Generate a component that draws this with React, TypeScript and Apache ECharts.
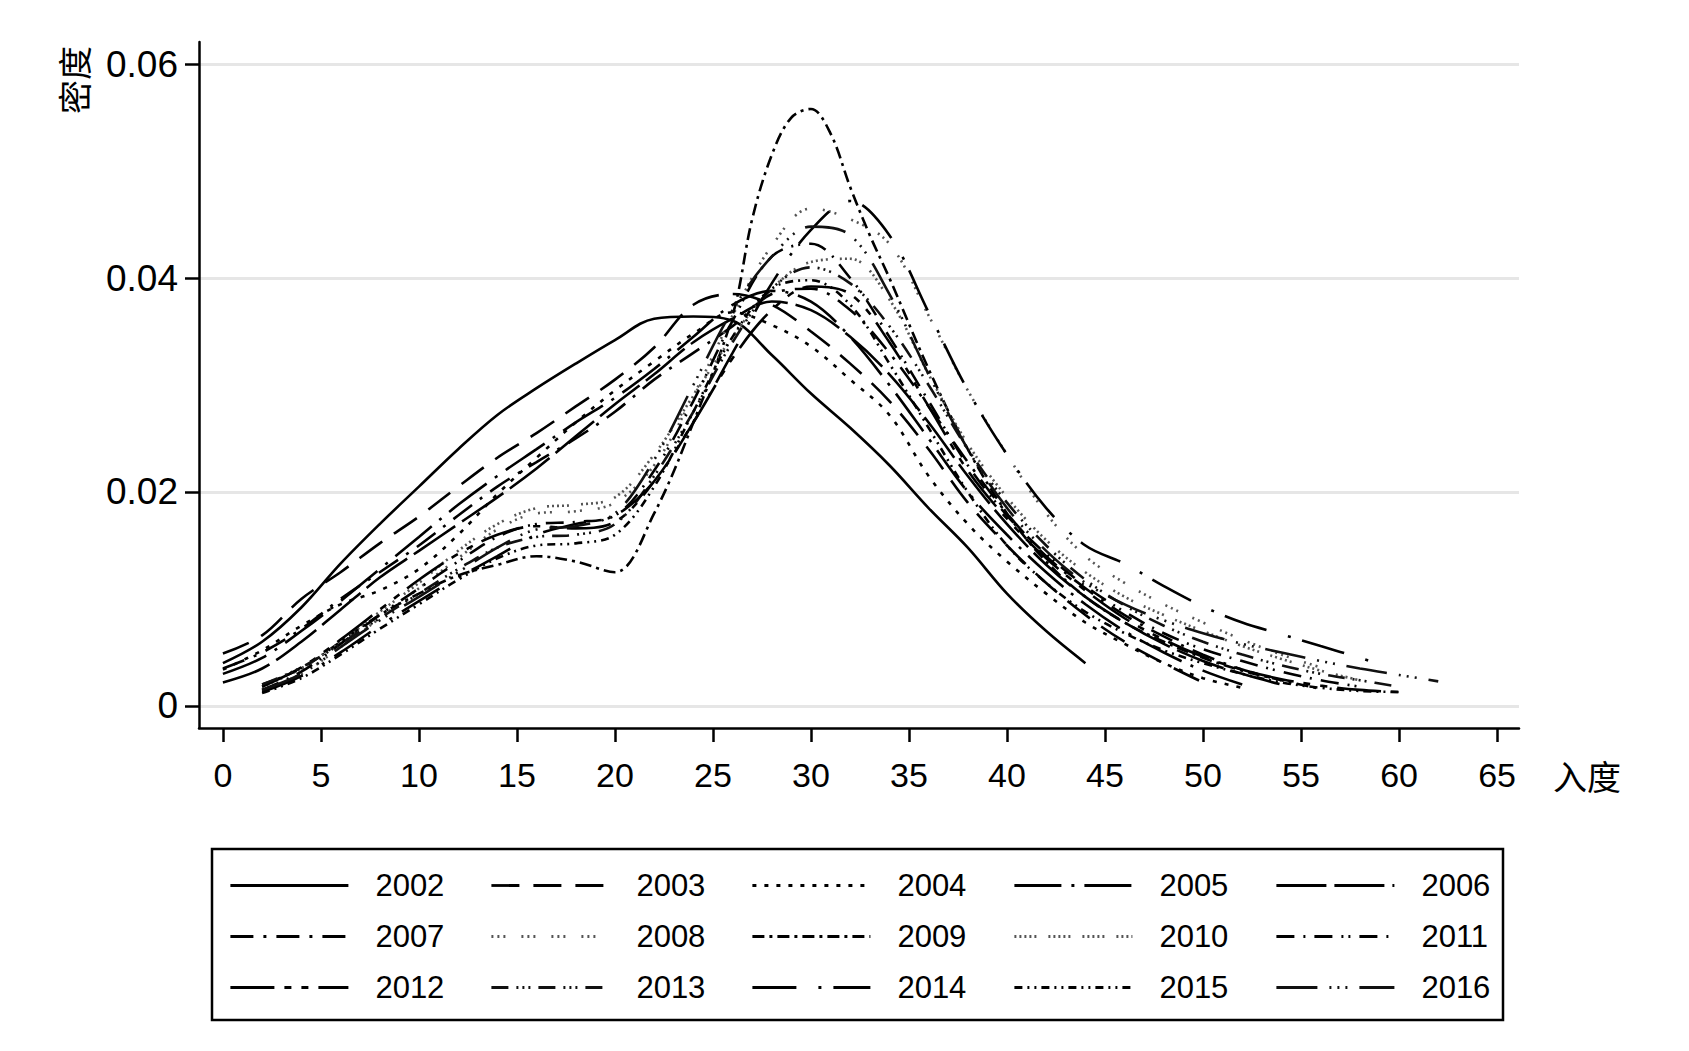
import React, { useEffect, useRef } from 'react';
import * as echarts from 'echarts';

// density curves: [degree, density]
const years = ['2002', '2003', '2004', '2005', '2006', '2007', '2008', '2009', '2010', '2011', '2012', '2013', '2014', '2015', '2016'];

const d2002 = [[0, 0.004], [2, 0.006], [4, 0.0092], [6, 0.0133], [8, 0.017], [10, 0.0205], [12, 0.024], [14, 0.0272], [16, 0.0297], [18, 0.032], [20, 0.0342], [22, 0.0362], [24, 0.0364], [26, 0.036], [28, 0.0328], [30, 0.0292], [32, 0.026], [34, 0.0225], [36, 0.0185], [38, 0.0148], [40, 0.0105], [42, 0.007], [44, 0.004]];
const d2003 = [[0, 0.0049], [2, 0.0066], [4, 0.01], [6, 0.0125], [8, 0.0152], [10, 0.0177], [12, 0.0205], [14, 0.0232], [16, 0.0255], [18, 0.028], [20, 0.0305], [22, 0.0335], [24, 0.0375], [26, 0.0385], [28, 0.0375], [30, 0.035], [32, 0.032], [34, 0.0285], [36, 0.024], [38, 0.019], [40, 0.015], [42, 0.0115], [44, 0.0085], [46, 0.006], [48, 0.004], [50, 0.0022]];
const d2004 = [[0, 0.0034], [2, 0.0052], [4, 0.0075], [6, 0.0095], [8, 0.0108], [10, 0.0128], [12, 0.016], [14, 0.0198], [16, 0.0232], [18, 0.0265], [20, 0.0295], [22, 0.0322], [24, 0.0348], [26, 0.0368], [28, 0.0356], [30, 0.0336], [32, 0.0305], [34, 0.0272], [36, 0.0215], [38, 0.017], [40, 0.0135], [42, 0.0105], [44, 0.0078], [46, 0.0058], [48, 0.004], [50, 0.0026], [52, 0.0017]];
const d2005 = [[0, 0.003], [2, 0.0045], [4, 0.007], [6, 0.0098], [8, 0.0128], [10, 0.0158], [12, 0.0188], [14, 0.0215], [16, 0.024], [18, 0.0265], [20, 0.0288], [22, 0.0315], [24, 0.0345], [26, 0.0375], [28, 0.0388], [30, 0.0378], [32, 0.0345], [34, 0.03], [36, 0.025], [38, 0.02], [40, 0.016], [42, 0.0125], [44, 0.0095], [46, 0.007], [48, 0.005], [50, 0.0033], [52, 0.002]];
const d2006 = [[0, 0.0022], [2, 0.0035], [4, 0.006], [6, 0.009], [8, 0.012], [10, 0.0145], [12, 0.017], [14, 0.0195], [16, 0.0222], [18, 0.0252], [20, 0.0282], [22, 0.031], [24, 0.034], [26, 0.0362], [28, 0.0378], [30, 0.037], [32, 0.0345], [34, 0.031], [36, 0.0265], [38, 0.0215], [40, 0.017], [42, 0.0132], [44, 0.0102], [46, 0.0078], [48, 0.0058], [50, 0.0042], [52, 0.003], [54, 0.002]];
const d2007 = [[0, 0.0035], [2, 0.005], [4, 0.0072], [6, 0.01], [8, 0.0125], [10, 0.015], [12, 0.0178], [14, 0.0205], [16, 0.0228], [18, 0.025], [20, 0.0275], [22, 0.0305], [24, 0.033], [26, 0.0355], [28, 0.0385], [30, 0.039], [32, 0.037], [34, 0.033], [36, 0.028], [38, 0.0228], [40, 0.018], [42, 0.014], [44, 0.011], [46, 0.0085], [48, 0.0065], [50, 0.0048], [52, 0.0034], [54, 0.0024]];
const d2008 = [[2, 0.0015], [4, 0.003], [6, 0.0055], [8, 0.0082], [10, 0.011], [12, 0.0138], [14, 0.0165], [16, 0.018], [18, 0.0182], [20, 0.019], [22, 0.0225], [24, 0.029], [26, 0.0365], [28, 0.043], [30, 0.0465], [32, 0.0455], [34, 0.0432], [36, 0.0365], [38, 0.0295], [40, 0.0235], [42, 0.018], [44, 0.014], [46, 0.0115], [48, 0.0095], [50, 0.0078], [52, 0.0062], [54, 0.0048], [56, 0.0036]];
const d2009 = [[2, 0.002], [4, 0.0035], [6, 0.006], [8, 0.0085], [10, 0.0105], [12, 0.0122], [14, 0.0132], [16, 0.014], [18, 0.0135], [20, 0.0125], [22, 0.018], [24, 0.0265], [26, 0.0365], [27, 0.0455], [28, 0.0515], [29, 0.055], [30, 0.0558], [31, 0.0535], [32, 0.0485], [33, 0.044], [34, 0.04], [36, 0.0315], [38, 0.024], [40, 0.018], [42, 0.0135], [44, 0.0102], [46, 0.0078], [48, 0.006], [50, 0.0045], [52, 0.0033], [54, 0.0024], [56, 0.0016]];
const d2010 = [[2, 0.0018], [4, 0.0035], [6, 0.006], [8, 0.0088], [10, 0.0115], [12, 0.0145], [14, 0.017], [16, 0.0185], [18, 0.0188], [20, 0.0195], [22, 0.0235], [24, 0.029], [26, 0.0345], [28, 0.039], [30, 0.0415], [32, 0.0418], [34, 0.038], [36, 0.031], [38, 0.0245], [40, 0.0195], [42, 0.0155], [44, 0.0125], [46, 0.0102], [48, 0.0085], [50, 0.007], [52, 0.0056], [54, 0.0044], [56, 0.0033], [58, 0.0024]];
const d2011 = [[2, 0.0015], [4, 0.0032], [6, 0.0058], [8, 0.0085], [10, 0.011], [12, 0.0135], [14, 0.0158], [16, 0.017], [18, 0.0172], [20, 0.0178], [22, 0.022], [24, 0.0285], [26, 0.036], [28, 0.042], [30, 0.0432], [32, 0.04], [34, 0.0345], [36, 0.0285], [38, 0.0225], [40, 0.0178], [42, 0.0142], [44, 0.0112], [46, 0.0088], [48, 0.0068], [50, 0.0053], [52, 0.0042], [54, 0.0032], [56, 0.0024], [58, 0.0018]];
const d2012 = [[2, 0.0018], [4, 0.0036], [6, 0.0062], [8, 0.009], [10, 0.0118], [12, 0.0142], [14, 0.016], [16, 0.0168], [18, 0.0166], [20, 0.0172], [22, 0.021], [24, 0.0265], [26, 0.0325], [28, 0.037], [30, 0.0392], [32, 0.0385], [34, 0.034], [36, 0.028], [38, 0.022], [40, 0.0175], [42, 0.0138], [44, 0.0108], [46, 0.0082], [48, 0.0062], [50, 0.0046], [52, 0.0034], [54, 0.0025], [56, 0.0019], [58, 0.0015], [60, 0.0013]];
const d2013 = [[2, 0.002], [4, 0.0036], [6, 0.0058], [8, 0.0082], [10, 0.0105], [12, 0.0128], [14, 0.0148], [16, 0.0158], [18, 0.016], [20, 0.017], [22, 0.0215], [24, 0.0275], [26, 0.034], [28, 0.039], [30, 0.041], [32, 0.0395], [34, 0.0355], [36, 0.03], [38, 0.024], [40, 0.019], [42, 0.015], [44, 0.0118], [46, 0.0094], [48, 0.0075], [50, 0.006], [52, 0.0048], [54, 0.0038], [56, 0.003], [58, 0.0024], [60, 0.0018]];
const d2014 = [[2, 0.0013], [4, 0.0028], [6, 0.005], [8, 0.0075], [10, 0.0098], [12, 0.012], [14, 0.014], [16, 0.016], [18, 0.017], [20, 0.0178], [22, 0.021], [24, 0.0265], [26, 0.033], [28, 0.0395], [30, 0.0445], [32, 0.0472], [34, 0.044], [36, 0.0368], [38, 0.0295], [40, 0.0235], [42, 0.0185], [44, 0.015], [46, 0.0133], [48, 0.0112], [50, 0.0093], [52, 0.0078], [54, 0.0067], [56, 0.0056], [58, 0.0045], [59, 0.0039]];
const d2015 = [[2, 0.0012], [4, 0.0026], [6, 0.0048], [8, 0.0072], [10, 0.0095], [12, 0.0118], [14, 0.0138], [16, 0.015], [18, 0.0152], [20, 0.016], [22, 0.0205], [24, 0.0275], [26, 0.0345], [28, 0.039], [30, 0.0398], [32, 0.0375], [34, 0.032], [36, 0.026], [38, 0.02], [40, 0.015], [42, 0.0115], [44, 0.0088], [46, 0.0068], [48, 0.0052], [50, 0.004], [52, 0.003], [54, 0.0022], [56, 0.0017], [58, 0.0014], [60, 0.0013]];
const d2016 = [[2, 0.0015], [4, 0.003], [6, 0.0055], [8, 0.008], [10, 0.0102], [12, 0.0125], [14, 0.0148], [16, 0.0165], [18, 0.0168], [20, 0.018], [22, 0.023], [24, 0.03], [26, 0.037], [28, 0.042], [30, 0.0448], [32, 0.044], [34, 0.0385], [36, 0.031], [38, 0.024], [40, 0.0185], [42, 0.0145], [44, 0.0115], [46, 0.0095], [48, 0.008], [50, 0.0068], [52, 0.0058], [54, 0.005], [56, 0.0042], [58, 0.0035], [60, 0.0029], [62, 0.0023]];

const curves = [d2002, d2003, d2004, d2005, d2006, d2007, d2008, d2009, d2010, d2011, d2012, d2013, d2014, d2015, d2016];

// Stata-like line patterns
const dashes: any[] = [
  'solid',
  [28, 14],
  [4, 8],
  [47, 10, 3, 10],
  [50, 8],
  [23, 10, 3, 10],
  [2, 4, 2, 4, 2, 16],
  [12, 5, 3, 5],
  [2, 3, 2, 3, 2, 3, 2, 3, 2, 12],
  [18, 9, 2, 9, 18, 9, 2, 5, 2, 9],
  [44, 10, 7, 10, 7, 10],
  [17, 8, 2, 4, 2, 4, 2, 8],
  [44, 22, 3, 12],
  [8, 5, 2, 5, 2, 5],
  [41, 12, 2, 6, 2, 6, 2, 12],
];
const lineColors = ['#000', '#000', '#000', '#000', '#000', '#000', '#555', '#000', '#555', '#000', '#000', '#111', '#000', '#000', '#111'];

const xTicks = [0, 5, 10, 15, 20, 25, 30, 35, 40, 45, 50, 55, 60, 65];
const yTicks = [0, 0.02, 0.04, 0.06];

const latin = '"Liberation Sans", Arial, Helvetica, sans-serif';
const cjk = '"Noto Sans CJK SC", "Liberation Sans", sans-serif';

const legendCols = [229, 490, 751, 1013, 1275];

const App: React.FC = () => {
  const chartRef = useRef<HTMLDivElement>(null);

  useEffect(() => {
    if (!chartRef.current) return;
    const chart = echarts.init(chartRef.current, undefined, { renderer: 'svg' });

    const option: any = {
      animation: false,
      backgroundColor: '#fff',
      textStyle: { fontFamily: latin },
      grid: { left: 199, right: 170, top: 42, bottom: 323 },
      xAxis: {
        type: 'value',
        min: -1.22,
        max: 66.12,
        axisLine: { show: true, onZero: false, lineStyle: { color: '#000', width: 2.5 } },
        axisTick: { show: true, customValues: xTicks, length: 14, lineStyle: { color: '#000', width: 2.5 } },
        axisLabel: { customValues: xTicks, margin: 30, fontSize: 34, color: '#000', fontFamily: latin },
        splitLine: { show: false },
      },
      yAxis: {
        type: 'value',
        min: -0.00206,
        max: 0.06206,
        axisLine: { show: true, onZero: false, lineStyle: { color: '#000', width: 2.5 } },
        axisTick: { show: true, customValues: yTicks, length: 14, lineStyle: { color: '#000', width: 2.5 } },
        axisLabel: {
          customValues: yTicks,
          margin: 21,
          fontSize: 37,
          color: '#000',
          fontFamily: latin,
          formatter: (v: number) => (v === 0 ? '0' : v.toFixed(2)),
        },
        splitLine: { show: true, lineStyle: { color: '#e6e6e6', width: 3 } },
      },
      legend: legendCols.map((left, c) => ({
        orient: 'vertical',
        left,
        top: 870,
        padding: 0,
        itemGap: 20,
        itemWidth: 118,
        itemHeight: 32,
        selectedMode: false,
        itemStyle: { color: 'transparent', borderWidth: 0, opacity: 0 },
        lineStyle: { opacity: 1, width: 2.8 },
        data: years.filter((_, i) => i % 5 === c),
        textStyle: { fontSize: 31, color: '#000', fontFamily: latin, padding: [0, 0, 0, 22] },
      })),
      graphic: [
        {
          type: 'rect',
          shape: { x: 212, y: 849, width: 1291, height: 171 },
          style: { fill: 'none', stroke: '#000', lineWidth: 2.5 },
          silent: true,
        },
        {
          type: 'text',
          x: 73,
          y: 80,
          rotation: Math.PI / 2,
          style: { text: '密度', font: `34px ${cjk}`, fill: '#000', textAlign: 'center', textVerticalAlign: 'middle', align: 'center', verticalAlign: 'middle' },
        },
        {
          type: 'text',
          x: 1587,
          y: 775,
          style: { text: '入度', font: `34px ${cjk}`, fill: '#000', textAlign: 'center', textVerticalAlign: 'middle', align: 'center', verticalAlign: 'middle' },
        },
      ],
      series: curves.map((data, i) => ({
        name: years[i],
        type: 'line',
        data,
        symbol: 'none',
        smooth: 0.35,
        silent: true,
        emphasis: { disabled: true },
        itemStyle: { color: lineColors[i] },
        lineStyle: { color: lineColors[i], width: 2.6, type: dashes[i] },
      })),
    };

    chart.setOption(option);

    return () => {
      chart.dispose();
    };
  }, []);

  return <div ref={chartRef} style={{ position: 'absolute', left: 0, top: 0, width: 1689, height: 1051 }} />;
};

export default App;
